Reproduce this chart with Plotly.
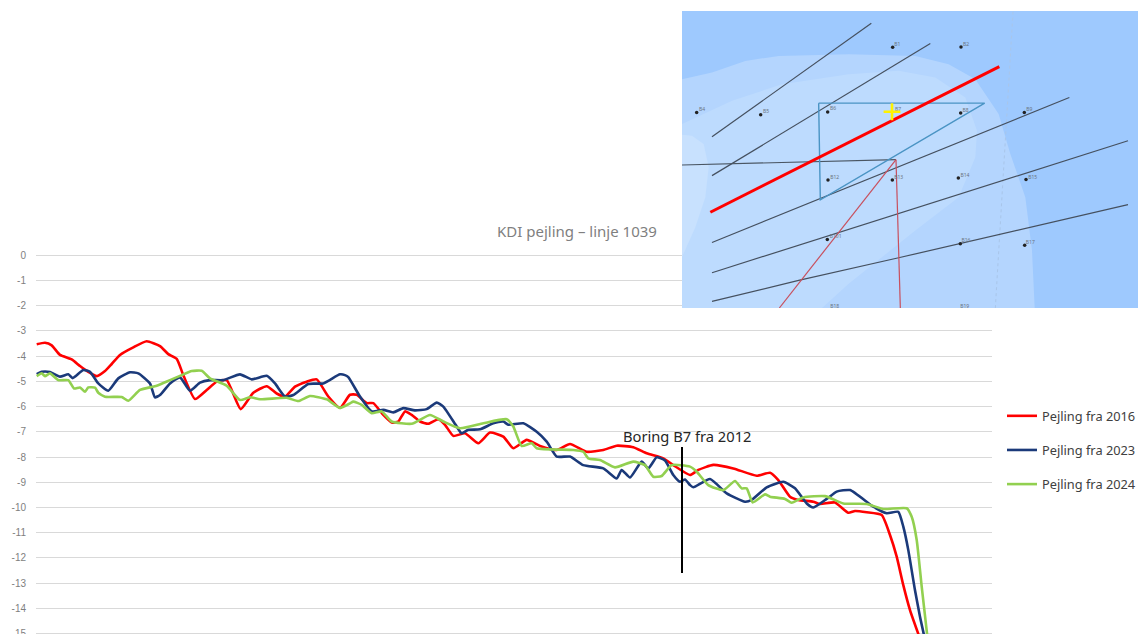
import plotly.graph_objects as go

W, H = 1139, 640   # the window shows the top 634 px; the -15 label is cut by the window edge, as in the reference
FONT = "Noto Sans"

depth_ticks = list(range(0, -16, -1))
depth_labels = [str(v) for v in depth_ticks]

x_2016 = [36.7,45,51.7,60,71.7,80,88.3,96.7,105,111.7,120,133.3,146.7,160,168.3,176.7,183.3,195,206.7,216.7,226.7,240.7,253.3,266.7,276.7,285,295,306.7,316.7,328.3,340,
          350,356.7,366.7,373.3,383.3,391.7,398.3,405,411.7,420,428.3,438.3,445,453.3,465,478.3,490,503.3,513.3,526.7,540,556.7,570,586.7,603.3,616.7,633.3,646.7,663.3,673.3,690,
          698.3,713.3,733.3,756.7,770,778.3,790,798.3,813.3,820,835,848.3,855,866.7,881.7,890,896.7,903.3,910,920]
y_2016 = [-3.53,-3.47,-3.57,-3.95,-4.13,-4.39,-4.62,-4.79,-4.59,-4.31,-3.95,-3.65,-3.41,-3.6,-3.92,-4.11,-4.75,-5.7,-5.34,-5.01,-4.95,-6.1,-5.45,-5.19,-5.48,-5.6,-5.21,-5.01,-4.92,-5.6,-6.05,
          -5.53,-5.53,-5.86,-5.86,-6.33,-6.63,-6.59,-6.19,-6.33,-6.59,-6.68,-6.5,-6.72,-7.16,-7.06,-7.45,-7.03,-7.19,-7.65,-7.32,-7.56,-7.72,-7.48,-7.79,-7.72,-7.55,-7.61,-7.85,-8.05,-8.32,-8.71,
          -8.51,-8.31,-8.45,-8.74,-8.62,-8.91,-9.57,-9.7,-9.77,-9.86,-9.8,-10.21,-10.14,-10.19,-10.3,-11.09,-11.95,-13.08,-14.07,-15.2]

x_2023 = [36.7,41.7,50,60,68.3,72.7,83.3,90,98.3,108.3,118.3,130,138.3,150,155,160,170,180,190,200,210,223.3,240,251.7,266.7,275,285,293.3,308.3,323.3,340,345,
          348.3,360,371.7,383.3,393.3,403.3,415,426.7,436.7,443.3,456.7,461.7,468.3,480,493.3,503.3,508.3,523.3,536.7,546.7,556.7,570,583.3,603.3,616.7,621.7,630,641.7,648.3,656.7,665,673.3,680,685,690,
          693.3,710,726.7,745,751.7,766.7,783.3,795,806.7,813.3,826.7,836.7,850,873.3,886.7,898.3,903.3,908.3,915,920,924.8]
y_2023 = [-4.71,-4.62,-4.63,-4.81,-4.72,-4.87,-4.55,-4.62,-5.08,-5.37,-4.88,-4.64,-4.68,-5.08,-5.63,-5.54,-5.08,-4.84,-5.37,-5.05,-4.95,-4.95,-4.72,-4.92,-4.78,-5.08,-5.6,-5.54,-5.1,-5.08,-4.72,-4.75,
          -4.83,-5.6,-6.19,-6.13,-6.23,-6.06,-6.15,-6.1,-5.84,-6,-6.79,-7.06,-6.92,-6.9,-6.66,-6.59,-6.72,-6.66,-7,-7.39,-7.98,-7.98,-8.32,-8.45,-8.85,-8.51,-8.81,-8.18,-8.45,-8.01,-8.14,-8.71,-8.98,-8.89,-9.11,
          -9.2,-8.87,-9.44,-9.77,-9.7,-9.2,-8.98,-9.24,-9.84,-10,-9.66,-9.37,-9.31,-9.97,-10.23,-10.17,-10.76,-11.69,-13.28,-14.33,-15.2]

x_2024 = [36.7,41.7,45,50,58.3,68.3,74,80,85,88.3,95,98.3,105,121.7,128.3,140,156.7,170,181.7,191.7,201.7,210,226.7,240,250,260,286.7,298.3,310,326.7,340,350,
          353.3,361.7,371.7,381.7,391.7,411.7,430,443.3,460,483.3,506.7,513.3,521.7,531.7,536.7,573.3,583.3,588.3,600,615,633.3,645,653.3,661.7,671.7,690,
          696.7,708.3,723.3,735,741.7,746.7,752.7,765,770,785,791.7,803.3,825,843.3,866.7,883.3,906.7,911.7,916.7,921.7,927.6]
y_2024 = [-4.79,-4.68,-4.79,-4.68,-4.95,-4.95,-5.28,-5.24,-5.41,-5.24,-5.25,-5.45,-5.61,-5.62,-5.77,-5.34,-5.17,-4.95,-4.75,-4.59,-4.58,-4.88,-5.17,-5.74,-5.63,-5.71,-5.65,-5.78,-5.58,-5.71,-6.05,-5.87,
          -5.8,-5.93,-6.26,-6.19,-6.59,-6.68,-6.33,-6.59,-6.86,-6.66,-6.5,-6.79,-7.56,-7.45,-7.65,-7.72,-7.79,-8.05,-8.12,-8.41,-8.18,-8.32,-8.78,-8.75,-8.32,-8.38,
          -8.58,-9.11,-9.31,-8.95,-9.24,-9.24,-9.8,-9.48,-9.57,-9.66,-9.81,-9.6,-9.55,-9.84,-9.86,-10.06,-10.03,-10.37,-11.29,-13.14,-15.2]

assert len(x_2016) == len(y_2016) and len(x_2023) == len(y_2023) and len(x_2024) == len(y_2024)

boring_x = [682, 682]
boring_y = [-7.6, -12.6]

series = [("Pejling fra 2016", x_2016, y_2016, "#FF0000"),
          ("Pejling fra 2023", x_2023, y_2023, "#1B3A7A"),
          ("Pejling fra 2024", x_2024, y_2024, "#92D050")]

# Inset map, in its own coordinates
map_frame = ([0, 1368, 1368, 0], [0, 0, 893, 893])
shoal_outer = ([0,90,190,290,500,700,800,880,950,985,1030,1050,1058,0],
               [205,185,150,135,130,135,160,205,310,430,560,720,893,893])
shoal_inner = ([0,150,300,500,650,760,850,885,880,830,700,500,420,0],
               [340,270,220,190,180,200,260,360,440,560,660,820,893,893])
shoal_core = ([0,30,65,80,70,40,0], [372,375,400,470,560,650,740])
sounding_lines = [([90,568],[378,37]), ([90,745],[495,98]), ([90,1162],[696,260]),
                  ([90,1338],[787,390]), ([90,350,650,1338],[873,810,742,582])]
section_line = ([85,952],[605,167])
cross_line = ([0,642],[463,447])
blue_frame = ([410,908,415,410],[277,277,568,277])
red_rays = [([642,655],[447,893]), ([642,292],[447,893])]
faint_line = ([993,940],[2,893])
bore_names = ["B1","B2","B4","B5","B6","B8","B9","B12","B13","B14","B15","B101","B16","B17"]
bore_x = [632,837,44,236,437,836,1027,438,631,829,1032,436,835,1028]
bore_y = [109,108,305,312,304,307,305,508,508,502,507,687,700,704]
label_x = [646,852,60,252,453,851,1042,458,650,849,1052,461,852,1045]
label_y = [101,100,297,304,295,299,297,500,500,494,500,679,692,696]
bottom_names = ["B18","B19"]
bottom_x = [458,848]
bottom_y = [888,888]
b7_x, b7_y = [630], [303]
b7_label_x, b7_label_y = [648], [297]

fig = go.Figure()
for name, xs, ys, col in series:
    fig.add_trace(go.Scatter(x=xs, y=ys, name=name, mode="lines", legendgroup=name,
                             line=dict(color=col, width=2.6, shape="spline", smoothing=0.5)))
fig.add_trace(go.Scatter(x=boring_x, y=boring_y, mode="lines", showlegend=False,
                         line=dict(color="black", width=2)))

def map_trace(xy, **kw):
    fig.add_trace(go.Scatter(x=xy[0], y=xy[1], xaxis="x2", yaxis="y2", showlegend=False,
                             hoverinfo="skip", **kw))

def fill(xy, col):
    map_trace(xy, mode="lines", fill="toself", fillcolor=col, line=dict(width=0))

def label(xy, names):
    map_trace(xy, mode="text", text=names, textposition="middle center",
              textfont=dict(size=5, color="#6B7480", family=FONT))

fill(map_frame, "#9EC9FE")
fill(shoal_outer, "#B4D5FE")
fill(shoal_inner, "#BDDBFE")
fill(shoal_core, "#C8E1FE")
map_trace(faint_line, mode="lines", line=dict(color="#A9C6EA", width=1, dash="dot"))
for ln in sounding_lines:
    map_trace(ln, mode="lines", line=dict(color="#45505F", width=1.2))
map_trace(cross_line, mode="lines", line=dict(color="#4A5663", width=1.2))
map_trace(blue_frame, mode="lines", line=dict(color="#4A94C4", width=1.4))
for ln in red_rays:
    map_trace(ln, mode="lines", line=dict(color="#C8505E", width=1.2))
map_trace(section_line, mode="lines", line=dict(color="#FF0000", width=3))
map_trace((bore_x, bore_y), mode="markers", marker=dict(color="#222222", size=3.5))
label((label_x, label_y), bore_names)
label((bottom_x, bottom_y), bottom_names)
label((b7_label_x, b7_label_y), ["B7"])
map_trace((b7_x, b7_y), mode="markers",
          marker=dict(symbol="cross-thin", size=12, line=dict(color="#FFF200", width=2.6)))

PX_PER_M = 25.22
ZERO_PX = 255.3
TOP_PX = 253.0
BOTTOM_PX = 638.0

fig.update_layout(
    width=W, height=H, autosize=False, margin=dict(l=0, r=0, t=0, b=0, autoexpand=False),
    paper_bgcolor="white", plot_bgcolor="rgba(0,0,0,0)",
    font=dict(family=FONT, color="#404040"),
    xaxis=dict(domain=[36/W, 992/W], range=[36, 992], visible=False, fixedrange=True, automargin=False),
    yaxis=dict(domain=[1-BOTTOM_PX/H, 1-TOP_PX/H],
               range=[-(BOTTOM_PX-ZERO_PX)/PX_PER_M, (ZERO_PX-TOP_PX)/PX_PER_M],
               tickvals=depth_ticks, ticktext=depth_labels, automargin=False,
               gridcolor="#D9D9D9", gridwidth=1.3, zeroline=False, showline=False, ticks="",
               ticklabelstandoff=9, tickfont=dict(size=10, color="#7F7F7F", family="Liberation Sans")),
    xaxis2=dict(domain=[682/W, 1138/W], range=[0, 1368], visible=False, anchor="y2", automargin=False),
    yaxis2=dict(domain=[1-308/H, 1-11/H], range=[893, 0], visible=False, anchor="x2", automargin=False),
    legend=dict(x=1002/W, y=1-401/H, xanchor="left", yanchor="top", bgcolor="rgba(0,0,0,0)",
                tracegroupgap=14.5, itemwidth=30, font=dict(size=12.8, color="#404040", family=FONT)),
    annotations=[
        dict(xref="paper", yref="paper", x=577/W, y=1-231/H, text="KDI pejling – linje 1039",
             showarrow=False, font=dict(size=15, color="#7F7F7F", family=FONT)),
        dict(xref="x", yref="y", x=687, y=-7.15, text="Boring B7 fra 2012",
             showarrow=False, font=dict(size=14.7, color="#262626", family=FONT)),
    ],
)
fig.write_html("out.html", config={"displayModeBar": False},
               post_script="document.body.style.margin='0';document.documentElement.style.overflow='hidden';document.body.style.overflow='hidden';")
